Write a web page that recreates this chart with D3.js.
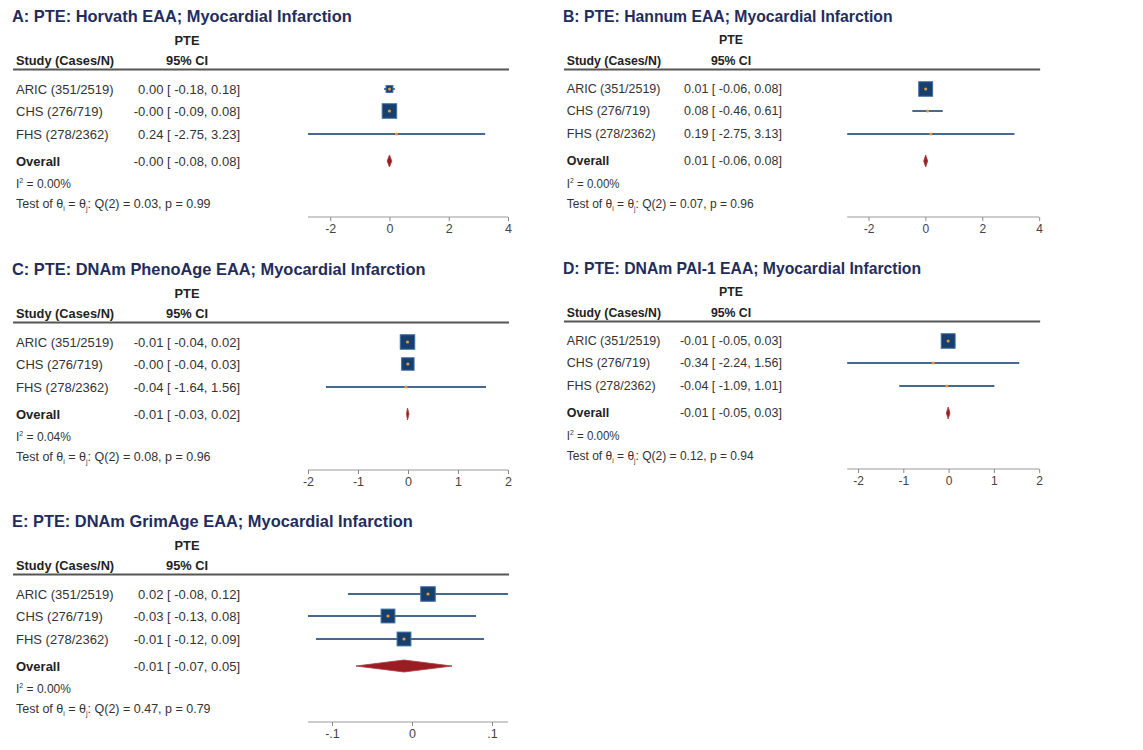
<!DOCTYPE html>
<html>
<head>
<meta charset="utf-8">
<script src="https://cdn.jsdelivr.net/npm/d3@7"></script>
<style>
  body { margin: 0; background: #fff; }
  text { font-family: "Liberation Sans", Arial, sans-serif; }
</style>
</head>
<body>
<svg id="chart" width="1143" height="750"></svg>
<script>
// ---- data ----
const studies = ["ARIC (351/2519)", "CHS (276/719)", "FHS (278/2362)"];
const titles = [
  "A: PTE: Horvath EAA; Myocardial Infarction",
  "B: PTE: Hannum EAA; Myocardial Infarction",
  "C: PTE: DNAm PhenoAge EAA; Myocardial Infarction",
  "D: PTE: DNAm PAI-1 EAA; Myocardial Infarction",
  "E: PTE: DNAm GrimAge EAA; Myocardial Infarction"
];

// study estimates / lower / upper, one set per panel
const horvathEst = [0.00, -0.002, 0.24];
const horvathLow = [-0.18, -0.09, -2.75];
const horvathHigh = [0.18, 0.08, 3.23];
const horvathOverall = [-0.001, -0.08, 0.08];
const horvathHet = ["0.00", "0.03", "0.99"];

const hannumEst = [0.01, 0.08, 0.19];
const hannumLow = [-0.06, -0.46, -2.75];
const hannumHigh = [0.08, 0.61, 3.13];
const hannumOverall = [0.01, -0.06, 0.08];
const hannumHet = ["0.00", "0.07", "0.96"];

const phenoEst = [-0.01, -0.003, -0.04];
const phenoLow = [-0.04, -0.04, -1.64];
const phenoHigh = [0.02, 0.03, 1.56];
const phenoOverall = [-0.01, -0.03, 0.02];
const phenoHet = ["0.04", "0.08", "0.96"];

const paiEst = [-0.01, -0.34, -0.04];
const paiLow = [-0.05, -2.24, -1.09];
const paiHigh = [0.03, 1.56, 1.01];
const paiOverall = [-0.01, -0.05, 0.03];
const paiHet = ["0.00", "0.12", "0.94"];

const grimEst = [0.02, -0.03, -0.01];
const grimLow = [-0.08, -0.13, -0.12];
const grimHigh = [0.12, 0.08, 0.09];
const grimOverall = [-0.01, -0.07, 0.05];
const grimHet = ["0.00", "0.47", "0.79"];

const ticksWide = [-2, 0, 2, 4];
const ticksUnit = [-2, -1, 0, 1, 2];
const ticksGrim = [-0.1, 0, 0.1];
const tickLabelsWide = ["-2", "0", "2", "4"];
const tickLabelsUnit = ["-2", "-1", "0", "1", "2"];
const tickLabelsGrim = ["-.1", "0", ".1"];

// ---- layout ----
const panels = [
  { title: titles[0], est: horvathEst, low: horvathLow, high: horvathHigh, overall: horvathOverall, het: horvathHet, ticks: ticksWide, labels: tickLabelsWide, x: 0, y: 0, sx: 1 },
  { title: titles[1], est: hannumEst, low: hannumLow, high: hannumHigh, overall: hannumOverall, het: hannumHet, ticks: ticksWide, labels: tickLabelsWide, x: 551.5, y: 0, sx: 0.96 },
  { title: titles[2], est: phenoEst, low: phenoLow, high: phenoHigh, overall: phenoOverall, het: phenoHet, ticks: ticksUnit, labels: tickLabelsUnit, x: 0, y: 253, sx: 1 },
  { title: titles[3], est: paiEst, low: paiLow, high: paiHigh, overall: paiOverall, het: paiHet, ticks: ticksUnit, labels: tickLabelsUnit, x: 551.5, y: 252, sx: 0.96 },
  { title: titles[4], est: grimEst, low: grimLow, high: grimHigh, overall: grimOverall, het: grimHet, ticks: ticksGrim, labels: tickLabelsGrim, x: 0, y: 505, sx: 1 }
];

const rowY = [89, 111, 134];
const overallY = 161;
const plotLeft = 308, plotRight = 508;
const axisY = 217;
const maxSide = 14.5;

const svg = d3.select("#chart");

function ciText(e, l, h) {
  return e.toFixed(2) + " [ " + l.toFixed(2) + ",  " + h.toFixed(2) + "]";
}

function drawPanel(p) {
  const g = svg.append("g")
    .attr("transform", `translate(${p.x},${p.y}) scale(${p.sx},1)`);

  const x = d3.scaleLinear()
    .domain([Math.min(d3.min(p.low), p.ticks[0]), Math.max(d3.max(p.high), p.ticks[p.ticks.length - 1])])
    .range([plotLeft, plotRight]);

  // title + header
  g.append("text").attr("x", 12).attr("y", 22)
    .attr("font-size", 16.4).attr("font-weight", "bold").attr("fill", "#1f2d5c")
    .text(p.title);
  g.append("text").attr("x", 187).attr("y", 44.5).attr("text-anchor", "middle")
    .attr("font-size", 12.8).attr("font-weight", "bold").attr("fill", "#222").text("PTE");
  g.append("text").attr("x", 16).attr("y", 65)
    .attr("font-size", 12.8).attr("font-weight", "bold").attr("fill", "#222").text("Study (Cases/N)");
  g.append("text").attr("x", 187).attr("y", 65).attr("text-anchor", "middle")
    .attr("font-size", 12.8).attr("font-weight", "bold").attr("fill", "#222").text("95% CI");
  g.append("line").attr("x1", 13).attr("x2", 509).attr("y1", 69.5).attr("y2", 69.5)
    .attr("stroke", "#555").attr("stroke-width", 2);

  // study rows
  const weights = p.low.map((l, i) => 1 / Math.pow((p.high[i] - l) / 3.92, 2));
  const wMax = d3.max(weights);

  studies.forEach((s, i) => {
    const cy = rowY[i];
    g.append("text").attr("x", 16).attr("y", cy + 4.5)
      .attr("font-size", 13).attr("fill", "#333").text(s);
    g.append("text").attr("x", 240).attr("y", cy + 4.5).attr("text-anchor", "end")
      .attr("font-size", 13).attr("fill", "#333").text(ciText(p.est[i], p.low[i], p.high[i]));

    g.append("line")
      .attr("x1", x(p.low[i])).attr("x2", x(p.high[i]))
      .attr("y1", cy).attr("y2", cy)
      .attr("stroke", "#46698f").attr("stroke-width", 2);

    const side = maxSide * Math.sqrt(weights[i] / wMax);
    g.append("rect")
      .attr("x", x(p.est[i]) - side / 2).attr("y", cy - side / 2)
      .attr("width", side).attr("height", side)
      .attr("fill", "#173f6e").attr("stroke", side > 2 ? "#3d6ea3" : "none").attr("stroke-width", 1);

    g.append("circle").attr("cx", x(p.est[i])).attr("cy", cy).attr("r", 1.6)
      .attr("fill", "#e39a3b");
  });

  // overall
  const [oe, ol, oh] = p.overall;
  g.append("text").attr("x", 16).attr("y", overallY + 4.5)
    .attr("font-size", 13).attr("font-weight", "bold").attr("fill", "#222").text("Overall");
  g.append("text").attr("x", 240).attr("y", overallY + 4.5).attr("text-anchor", "end")
    .attr("font-size", 13).attr("fill", "#333").text(ciText(oe, ol, oh));
  g.append("path")
    .attr("d", `M${x(ol)},${overallY} L${x(oe)},${overallY - 6} L${x(oh)},${overallY} L${x(oe)},${overallY + 6} Z`)
    .attr("fill", "#9a1d24").attr("stroke", "#a83a3e").attr("stroke-width", 0.8);

  // heterogeneity
  const i2 = g.append("text").attr("x", 16).attr("y", 188)
    .attr("font-size", 12).attr("fill", "#333");
  i2.append("tspan").text("I");
  i2.append("tspan").attr("dy", -5).attr("font-size", 7).text("2");
  i2.append("tspan").attr("dy", 5).text(" = " + p.het[0] + "%");

  const q = g.append("text").attr("x", 16).attr("y", 208)
    .attr("font-size", 12.5).attr("fill", "#333");
  q.append("tspan").text("Test of θ");
  q.append("tspan").attr("dy", 3).attr("font-size", 7).text("i");
  q.append("tspan").attr("dy", -3).text(" = θ");
  q.append("tspan").attr("dy", 3).attr("font-size", 7).text("j");
  q.append("tspan").attr("dy", -3).text(": Q(2) = " + p.het[1] + ", p = " + p.het[2]);

  // x axis
  const axis = g.append("g")
    .attr("transform", `translate(0,${axisY})`)
    .call(d3.axisBottom(x).tickValues(p.ticks).tickFormat((d, i) => p.labels[i]).tickSize(4).tickSizeOuter(0));
  axis.select(".domain").attr("stroke", "#9a9a9a").attr("stroke-width", 1.2)
    .attr("d", `M${x.range()[0]},0H${x.range()[1]}`);
  axis.selectAll(".tick line").attr("stroke", "#888");
  axis.selectAll(".tick text")
    .attr("font-size", 12.5).attr("fill", "#444")
    .attr("font-family", '"Liberation Sans", Arial, sans-serif');
}

panels.forEach(drawPanel);
</script>
</body>
</html>
